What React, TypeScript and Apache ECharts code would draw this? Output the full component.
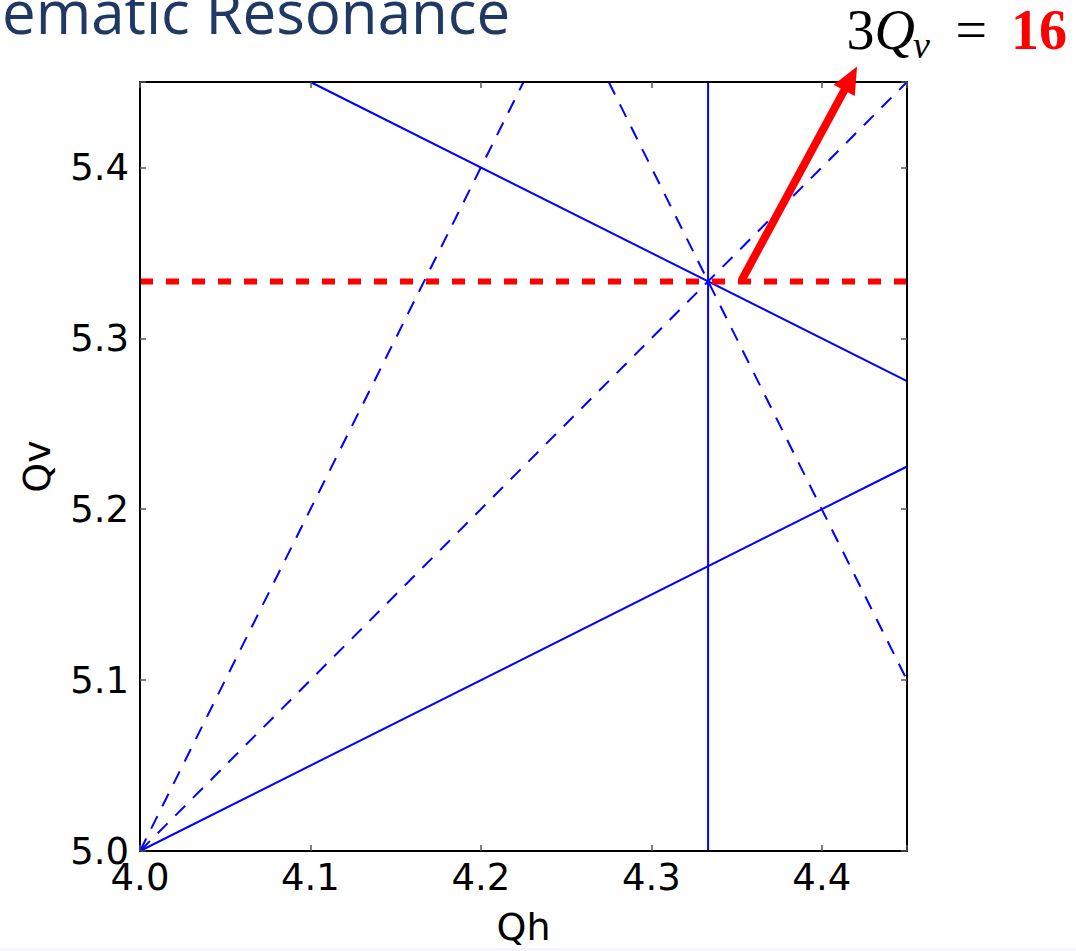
import React, { useEffect, useRef } from 'react';
import * as echarts from 'echarts';

// Tune window
const qhRange = [4.0, 4.45];
const qvRange = [5.0, 5.45];
const tickStep = 0.1;
const xTickLabels = ['4.0', '4.1', '4.2', '4.3', '4.4'];
const yTickLabels = ['5.0', '5.1', '5.2', '5.3', '5.4'];

// Resonance lines, each as its two end points [Qh, Qv] on the edge of the window
const resQhPlus2Qv15 = [[4.1, 5.45], [4.45, 5.275]]; // Qh + 2Qv = 15
const res2QvMinusQh6 = [[4.0, 5.0], [4.45, 5.225]]; // -Qh + 2Qv = 6
const res3Qh13 = [[4.3333, 5.0], [4.3333, 5.45]]; // 3Qh = 13
const resQv5 = [[4.0, 5.0], [4.45, 5.0]]; // Qv = 5
const resQvMinusQh1 = [[4.0, 5.0], [4.45, 5.45]]; // Qv - Qh = 1
const res2QhMinusQv3 = [[4.0, 5.0], [4.225, 5.45]]; // 2Qh - Qv = 3
const res2QhPlusQv14 = [[4.275, 5.45], [4.45, 5.1]]; // 2Qh + Qv = 14
const res3Qv16 = [[4.0, 5.3333], [4.45, 5.3333]]; // 3Qv = 16

// Pointer from the 3Qv = 16 line to its label: tail, tip
const arrowTail = [4.353, 5.334];
const arrowTip = [4.4207, 5.459];

const BLUE = '#0000ff';
const RED = '#ff0000';
const TICK_FONT = 'DejaVu Sans';
const MATH_FONT = 'Liberation Serif';

function tickFormatter(labels: string[], start: number) {
  return (v: number) => {
    const i = Math.round((v - start) / tickStep);
    if (Math.abs(v - (start + i * tickStep)) > 1e-6) return '';
    return labels[i] ?? '';
  };
}

function blueLine(data: number[][], dashed: boolean) {
  return {
    type: 'line',
    data,
    symbol: 'none',
    silent: true,
    z: 2,
    lineStyle: { color: BLUE, width: 2, type: dashed ? [14, 11] : 'solid' },
  };
}

export default function App() {
  const ref = useRef<HTMLDivElement>(null);

  useEffect(() => {
    if (!ref.current) return;
    const chart = echarts.init(ref.current, null, { renderer: 'svg' });

    const frameAxis = {
      type: 'value',
      min: qhRange[0],
      max: qhRange[1],
      interval: tickStep,
      splitLine: { show: false },
      axisLine: { show: true, lineStyle: { color: '#000', width: 2 } },
      axisTick: { show: true, inside: true, length: 6, lineStyle: { color: '#555', width: 1.5 } },
    };

    chart.setOption({
      animation: false,
      backgroundColor: '#ffffff',
      grid: {
        left: 140,
        top: 82,
        width: 767,
        height: 769,
        containLabel: false,
        outerBoundsMode: 'none',
      },
      xAxis: [
        {
          ...frameAxis,
          position: 'bottom',
          z: 5,
          name: 'Qh',
          nameLocation: 'middle',
          nameGap: 57,
          nameTextStyle: { fontFamily: TICK_FONT, fontSize: 38, color: '#000' },
          axisLabel: {
            margin: 8,
            fontFamily: TICK_FONT,
            fontSize: 37,
            color: '#000',
            formatter: tickFormatter(xTickLabels, qhRange[0]),
          },
        },
        {
          ...frameAxis,
          position: 'top',
          z: 5,
          axisLabel: { show: false },
        },
      ],
      yAxis: [
        {
          ...frameAxis,
          min: qvRange[0],
          max: qvRange[1],
          position: 'left',
          z: 5,
          name: 'Qv',
          nameLocation: 'middle',
          nameRotate: 90,
          nameGap: 84,
          nameTextStyle: { fontFamily: TICK_FONT, fontSize: 38, color: '#000' },
          axisLabel: {
            margin: 11,
            fontFamily: TICK_FONT,
            fontSize: 37,
            color: '#000',
            formatter: tickFormatter(yTickLabels, qvRange[0]),
          },
        },
        {
          ...frameAxis,
          min: qvRange[0],
          max: qvRange[1],
          position: 'right',
          z: 5,
          axisLabel: { show: false },
        },
      ],
      series: [
        blueLine(resQv5, false),
        blueLine(resQhPlus2Qv15, false),
        blueLine(res2QvMinusQh6, false),
        blueLine(res3Qh13, false),
        blueLine(resQvMinusQh1, true),
        blueLine(res2QhMinusQv3, true),
        blueLine(res2QhPlusQv14, true),
        {
          type: 'line',
          data: res3Qv16,
          symbol: 'none',
          silent: true,
          z: 3,
          lineStyle: { color: RED, width: 6, type: [13, 13] },
        },
      ],
    });

    // Arrow annotation, placed from data coordinates
    const tail = chart.convertToPixel({ gridIndex: 0 }, arrowTail) as number[];
    const tip = chart.convertToPixel({ gridIndex: 0 }, arrowTip) as number[];
    const dx = tip[0] - tail[0];
    const dy = tip[1] - tail[1];
    const len = Math.hypot(dx, dy);
    const ux = dx / len;
    const uy = dy / len;
    const headLen = 27;
    const headHalf = 12;
    const bx = tip[0] - ux * headLen;
    const by = tip[1] - uy * headLen;

    chart.setOption({
      graphic: [
        {
          type: 'text',
          x: 2,
          y: 11,
          z: 10,
          style: {
            text: 'ematic Resonance',
            fontFamily: 'Open Sans',
            fontSize: 60,
            fill: '#203864',
            verticalAlign: 'middle',
          },
        },
        // 3Q with subscript v, then "= 16"
        {
          type: 'text',
          x: 915,
          y: 30,
          z: 10,
          style: {
            text: '{n|3}{q|Q}',
            align: 'right',
            verticalAlign: 'middle',
            rich: {
              n: { fontFamily: MATH_FONT, fontSize: 56, fill: '#000' },
              q: { fontFamily: MATH_FONT, fontStyle: 'italic', fontSize: 56, fill: '#000' },
            },
          },
        },
        {
          type: 'text',
          x: 913,
          y: 45,
          z: 10,
          style: {
            text: 'v',
            align: 'left',
            verticalAlign: 'middle',
            fontFamily: MATH_FONT,
            fontStyle: 'italic',
            fontSize: 38,
            fill: '#000',
          },
        },
        {
          type: 'text',
          x: 1067,
          y: 30,
          z: 10,
          style: {
            text: '{e|=}{b|16}',
            align: 'right',
            verticalAlign: 'middle',
            rich: {
              e: { fontFamily: MATH_FONT, fontSize: 56, fill: '#000', padding: [0, 24, 0, 0] },
              b: { fontFamily: MATH_FONT, fontWeight: 'bold', fontSize: 56, fill: RED },
            },
          },
        },
        {
          type: 'line',
          z: 10,
          shape: { x1: tail[0], y1: tail[1], x2: bx + ux * 2, y2: by + uy * 2 },
          style: { stroke: RED, lineWidth: 8 },
        },
        {
          type: 'polygon',
          z: 10,
          shape: {
            points: [
              [tip[0], tip[1]],
              [bx - uy * headHalf, by + ux * headHalf],
              [bx + uy * headHalf, by - ux * headHalf],
            ],
          },
          style: { fill: RED },
        },
        {
          type: 'rect',
          z: 20,
          shape: { x: 0, y: 948, width: 1076, height: 3 },
          style: { fill: '#f5f5fb' },
        },
      ],
    });

    return () => chart.dispose();
  }, []);

  return (
    <div
      ref={ref}
      style={{ position: 'absolute', left: 0, top: 0, width: 1076, height: 951, background: '#fff' }}
    />
  );
}
